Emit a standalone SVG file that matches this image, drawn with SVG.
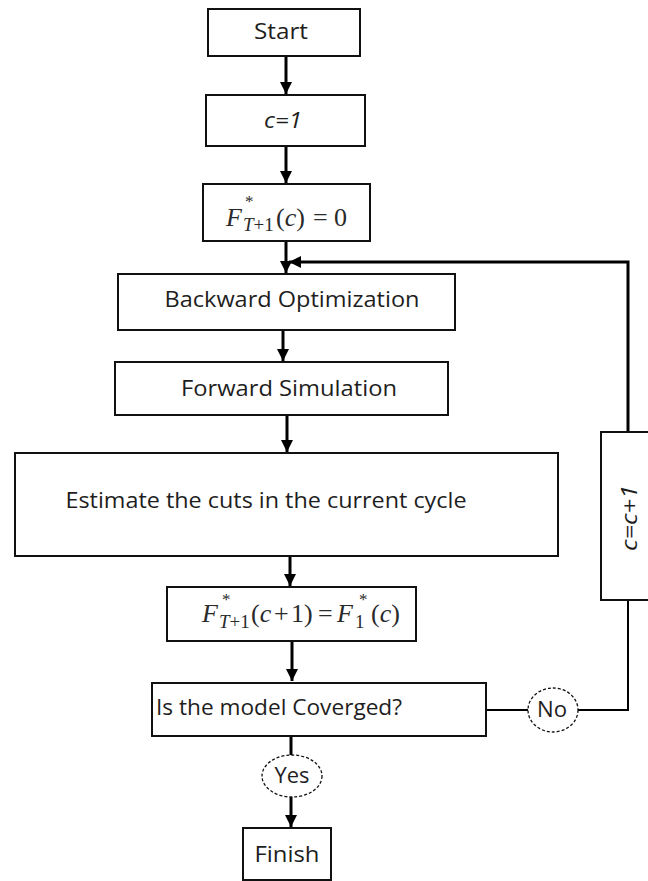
<svg xmlns="http://www.w3.org/2000/svg" width="648" height="881" viewBox="0 0 648 881">
<style>
.box{fill:#fff;stroke:#111;stroke-width:2}
.oval{fill:#fff;stroke:#111;stroke-width:1.3;stroke-dasharray:3 2}
.lbl{font-family:"Open Sans","Liberation Sans",sans-serif;font-size:21px;fill:#1e1e1e;text-anchor:middle}
.sit{font-family:"Open Sans","Liberation Sans",sans-serif;font-style:italic;fill:#1e1e1e;text-anchor:middle}
.math{font-family:"Liberation Serif",serif;font-size:26px;fill:#2a2a2a}
.it{font-style:italic}
.sup{font-size:17px}
.sub{font-size:19px}
.con{fill:none;stroke:#000;stroke-width:3}
.con2{fill:none;stroke:#000;stroke-width:2}
</style>
<defs>
<marker id="ah" viewBox="0 0 10 10" refX="10" refY="5" markerWidth="12" markerHeight="12" markerUnits="userSpaceOnUse" orient="auto">
<path d="M0,0 L10,5 L0,10 z" fill="#000"/>
</marker>
</defs>
<g id="connectors">
<line class="con" x1="286" y1="56" x2="286" y2="94" marker-end="url(#ah)"/>
<line class="con" x1="286" y1="146" x2="286" y2="183" marker-end="url(#ah)"/>
<line class="con" x1="286" y1="241" x2="286" y2="273" marker-end="url(#ah)"/>
<line class="con" x1="283" y1="330" x2="283" y2="361" marker-end="url(#ah)"/>
<line class="con" x1="287" y1="415" x2="287" y2="452" marker-end="url(#ah)"/>
<line class="con" x1="290" y1="556" x2="290" y2="586" marker-end="url(#ah)"/>
<line class="con" x1="292" y1="641" x2="292" y2="681" marker-end="url(#ah)"/>
<line class="con" x1="291" y1="736" x2="291" y2="755"/>
<line class="con" x1="291" y1="797" x2="291" y2="827" marker-end="url(#ah)"/>
<line class="con2" x1="486" y1="710" x2="528" y2="710"/>
<polyline class="con2" points="578,710 628,710 628,600"/>
<polyline class="con" points="628,432 628,262 289,262" marker-end="url(#ah)"/>
</g>
<g id="start">
<rect class="box" x="208" y="9" width="152" height="47"/>
<text class="lbl" x="281" y="39" textLength="54" lengthAdjust="spacingAndGlyphs">Start</text>
</g>
<g id="c1">
<rect class="box" x="206" y="95" width="159" height="51"/>
<text class="sit" x="283" y="128" font-size="21" textLength="38" lengthAdjust="spacingAndGlyphs">c=1</text>
</g>
<g id="finit">
<rect class="box" x="203" y="184" width="167" height="57"/>
<text class="math"><tspan class="it" x="226" y="226">F</tspan><tspan class="sup" x="245" y="207">*</tspan><tspan class="sub it" x="243" y="231">T</tspan><tspan class="sub">+1</tspan><tspan x="276" y="226">(</tspan><tspan class="it">c</tspan><tspan>)</tspan><tspan x="313" y="226">=</tspan><tspan x="334" y="226">0</tspan></text>
</g>
<g id="backward">
<rect class="box" x="118" y="274" width="337" height="56"/>
<text class="lbl" x="292" y="307" textLength="255" lengthAdjust="spacingAndGlyphs">Backward Optimization</text>
</g>
<g id="forward">
<rect class="box" x="115" y="362" width="333" height="53"/>
<text class="lbl" x="289" y="396" textLength="216" lengthAdjust="spacingAndGlyphs">Forward Simulation</text>
</g>
<g id="estimate">
<rect class="box" x="15" y="453" width="543" height="103"/>
<text class="lbl" x="266" y="508" textLength="401" lengthAdjust="spacingAndGlyphs">Estimate the cuts in the current cycle</text>
</g>
<g id="fupdate">
<rect class="box" x="167" y="587" width="249" height="54"/>
<text class="math"><tspan class="it" x="202" y="622">F</tspan><tspan class="sup" x="222" y="605">*</tspan><tspan class="sub it" x="219" y="628">T</tspan><tspan class="sub">+1</tspan><tspan x="251" y="622">(</tspan><tspan class="it">c</tspan><tspan x="274" y="622">+</tspan><tspan x="291" y="622">1)</tspan><tspan x="318" y="622">=</tspan><tspan class="it" x="337" y="622">F</tspan><tspan class="sup" x="359" y="605">*</tspan><tspan class="sub" x="355" y="628">1</tspan><tspan x="371" y="622">(</tspan><tspan class="it">c</tspan><tspan>)</tspan></text>
</g>
<g id="converged">
<rect class="box" x="152" y="683" width="334" height="53"/>
<text class="lbl" x="279" y="715" textLength="246" lengthAdjust="spacingAndGlyphs">Is the model Coverged?</text>
</g>
<g id="no">
<ellipse class="oval" cx="553" cy="710" rx="25" ry="22"/>
<text class="lbl" x="552" y="717" textLength="30" lengthAdjust="spacingAndGlyphs">No</text>
</g>
<g id="cinc">
<rect class="box" x="601" y="432" width="50" height="168"/>
<text class="sit" transform="translate(637,518) rotate(-90)" font-size="21" textLength="66" lengthAdjust="spacingAndGlyphs">c=c+1</text>
</g>
<g id="yes">
<ellipse class="oval" cx="292" cy="776" rx="30" ry="21"/>
<text class="lbl" x="292" y="783" textLength="35" lengthAdjust="spacingAndGlyphs">Yes</text>
</g>
<g id="finish">
<rect class="box" x="243" y="828" width="88" height="52"/>
<text class="lbl" x="287" y="862" textLength="65" lengthAdjust="spacingAndGlyphs">Finish</text>
</g>
</svg>
